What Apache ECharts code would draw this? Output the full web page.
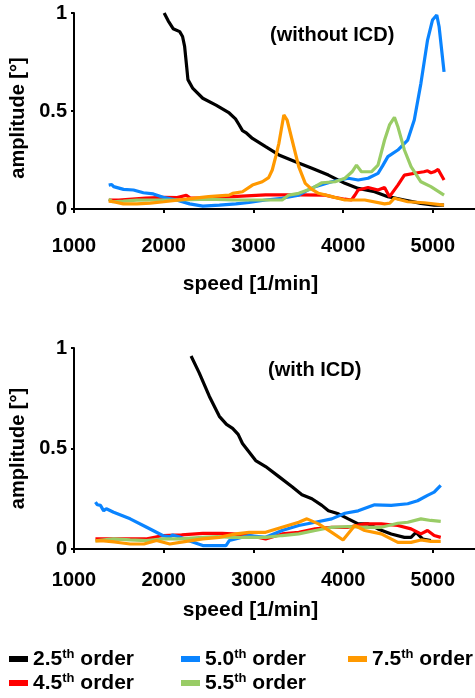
<!DOCTYPE html>
<html>
<head>
<meta charset="utf-8">
<script src="https://cdn.jsdelivr.net/npm/echarts@6/dist/echarts.min.js"></script>
<style>
html,body{margin:0;padding:0;background:#fff;}
#chart{width:475px;height:698px;}
</style>
</head>
<body>
<div id="chart"></div>
<script>
// ---------- data (speed [1/min], amplitude [°]) ----------
const seriesNames = ['2.5th order', '4.5th order', '5.0th order', '5.5th order', '7.5th order'];
const seriesColors = ['#000000', '#FF0000', '#0A84FF', '#99CC66', '#FF9900'];
const xTicks = [1000, 2000, 3000, 4000, 5000];
const yTicks = [0, 0.5, 1];
const panelLabels = ['(without ICD)', '(with ICD)'];

// top panel: without ICD
const order25Without = [[2005,1.0],[2050,0.96],[2105,0.92],[2178,0.905],[2210,0.88],[2233,0.83],[2255,0.73],[2270,0.66],[2325,0.615],[2435,0.565],[2583,0.53],[2730,0.49],[2800,0.46],[2840,0.43],[2878,0.40],[2915,0.39],[2989,0.36],[3136,0.318],[3284,0.276],[3468,0.241],[3652,0.208],[3836,0.173],[4020,0.131],[4168,0.105],[4351,0.088],[4499,0.063],[4683,0.046],[4867,0.029],[5015,0.02],[5125,0.02]];
const order45Without = [[1387,0.046],[1500,0.045],[1650,0.05],[1800,0.055],[2000,0.06],[2150,0.058],[2252,0.07],[2300,0.055],[2450,0.055],[2600,0.06],[2768,0.063],[3136,0.072],[3505,0.072],[3800,0.071],[3900,0.06],[4020,0.05],[4093,0.046],[4130,0.07],[4168,0.097],[4278,0.11],[4389,0.097],[4462,0.11],[4517,0.063],[4610,0.122],[4683,0.173],[4830,0.185],[4900,0.19],[4941,0.195],[4980,0.185],[5015,0.19],[5059,0.202],[5125,0.148]];
const order50Without = [[1387,0.122],[1420,0.125],[1442,0.114],[1552,0.10],[1663,0.097],[1773,0.083],[1884,0.077],[1994,0.06],[2141,0.046],[2289,0.026],[2436,0.015],[2621,0.02],[2804,0.026],[2950,0.033],[3136,0.046],[3320,0.055],[3505,0.071],[3600,0.095],[3689,0.114],[3873,0.139],[4057,0.157],[4168,0.148],[4278,0.157],[4389,0.182],[4440,0.22],[4499,0.267],[4610,0.301],[4720,0.352],[4793,0.454],[4867,0.641],[4941,0.862],[4996,0.964],[5044,0.99],[5070,0.93],[5125,0.70]];
const order55Without = [[1387,0.05],[1430,0.037],[1550,0.04],[1700,0.045],[1884,0.046],[2100,0.046],[2300,0.048],[2500,0.05],[2768,0.046],[3136,0.046],[3320,0.046],[3394,0.071],[3505,0.08],[3652,0.105],[3763,0.134],[3910,0.139],[4020,0.157],[4100,0.19],[4149,0.224],[4204,0.19],[4315,0.19],[4389,0.224],[4462,0.352],[4517,0.429],[4572,0.468],[4610,0.42],[4683,0.301],[4757,0.216],[4867,0.139],[4978,0.114],[5125,0.071]];
const order75Without = [[1387,0.04],[1440,0.037],[1550,0.026],[1700,0.026],[1850,0.03],[2000,0.037],[2250,0.05],[2500,0.063],[2730,0.071],[2768,0.08],[2878,0.088],[2989,0.122],[3099,0.139],[3170,0.16],[3210,0.199],[3250,0.27],[3284,0.335],[3339,0.48],[3376,0.454],[3431,0.352],[3505,0.216],[3578,0.131],[3652,0.1],[3726,0.08],[3873,0.063],[4020,0.046],[4241,0.046],[4462,0.026],[4520,0.03],[4572,0.055],[4720,0.037],[4904,0.032],[5125,0.02]];

// bottom panel: with ICD
const order25With = [[2305,0.96],[2397,0.875],[2508,0.76],[2620,0.66],[2700,0.62],[2768,0.60],[2830,0.57],[2878,0.525],[3025,0.44],[3136,0.41],[3284,0.36],[3431,0.31],[3541,0.27],[3652,0.25],[3763,0.217],[3836,0.19],[3947,0.175],[4057,0.15],[4168,0.125],[4278,0.125],[4389,0.10],[4536,0.075],[4683,0.058],[4757,0.058],[4812,0.083],[4886,0.05],[4978,0.042]];
const order45With = [[1239,0.05],[1400,0.05],[1600,0.05],[1800,0.05],[1994,0.067],[2200,0.07],[2436,0.078],[2650,0.078],[2768,0.075],[2952,0.067],[3136,0.05],[3320,0.075],[3505,0.083],[3689,0.1],[3873,0.108],[4057,0.108],[4241,0.125],[4425,0.125],[4610,0.117],[4757,0.1],[4867,0.075],[4941,0.092],[5015,0.067],[5088,0.058]];
const order50With = [[1239,0.233],[1260,0.22],[1280,0.225],[1295,0.217],[1331,0.19],[1360,0.2],[1442,0.183],[1626,0.15],[1810,0.108],[1994,0.066],[2068,0.06],[2100,0.07],[2178,0.06],[2289,0.04],[2436,0.017],[2583,0.017],[2694,0.017],[2731,0.042],[2800,0.05],[2952,0.067],[3136,0.058],[3320,0.092],[3505,0.117],[3689,0.133],[3873,0.15],[4020,0.178],[4168,0.19],[4351,0.22],[4536,0.217],[4720,0.225],[4830,0.24],[4941,0.267],[5015,0.283],[5088,0.317]];
const order55With = [[1239,0.04],[1442,0.05],[1626,0.045],[1810,0.042],[1994,0.05],[2178,0.05],[2436,0.058],[2600,0.062],[2768,0.058],[3136,0.058],[3320,0.067],[3505,0.075],[3689,0.092],[3873,0.108],[4057,0.112],[4241,0.108],[4425,0.108],[4610,0.128],[4720,0.133],[4867,0.15],[4978,0.142],[5088,0.137]];
const order75With = [[1239,0.04],[1330,0.04],[1450,0.035],[1626,0.025],[1780,0.025],[1920,0.042],[2068,0.025],[2252,0.038],[2436,0.05],[2620,0.058],[2804,0.075],[2952,0.083],[3136,0.083],[3320,0.108],[3505,0.133],[3597,0.15],[3726,0.125],[3873,0.083],[3999,0.045],[4130,0.117],[4241,0.092],[4425,0.075],[4610,0.033],[4757,0.033],[4867,0.045],[4978,0.038],[5088,0.038]];

// ---------- chart ----------
const FONT = 'Liberation Sans, Arial, sans-serif';
const chart = echarts.init(document.getElementById('chart'), null, {renderer: 'canvas'});

function xAxisFor(gridIndex, labelMargin, nameGap) {
  return {
    type: 'value', gridIndex: gridIndex, min: xTicks[0], max: 5470, interval: 1000,
    axisLine: {show: true, onZero: false, lineStyle: {color: '#000', width: 2}},
    axisTick: {show: true, inside: false, length: 4, lineStyle: {color: '#000', width: 2}},
    axisLabel: {show: true, showMaxLabel: false, margin: labelMargin, color: '#000',
      fontFamily: FONT, fontWeight: 'bold', fontSize: 20,
      formatter: function (v) { return xTicks.indexOf(v) >= 0 ? String(v) : ''; }},
    splitLine: {show: false},
    name: 'speed [1/min]', nameLocation: 'middle', nameGap: nameGap,
    nameTextStyle: {color: '#000', fontFamily: FONT, fontWeight: 'bold', fontSize: 21, padding: [0, 48, 0, 0]}
  };
}
function yAxisFor(gridIndex, shift) {
  return {
    type: 'value', gridIndex: gridIndex, min: yTicks[0], max: yTicks[2], interval: 0.5,
    axisLine: {show: true, lineStyle: {color: '#000', width: 2}},
    axisTick: {show: true, inside: false, length: 3, lineStyle: {color: '#000', width: 2}},
    axisLabel: {show: true, margin: 7, color: '#000', fontFamily: FONT, fontWeight: 'bold', fontSize: 20,
      formatter: function (v) { return String(v); }},
    splitLine: {show: false},
    name: 'amplitude [°]', nameLocation: 'middle', nameRotate: 90, nameGap: 46,
    nameTextStyle: {color: '#000', fontFamily: FONT, fontWeight: 'bold', fontSize: 20, padding: [0, shift, 0, 0]}
  };
}

const topData = [order25Without, order45Without, order50Without, order55Without, order75Without];
const botData = [order25With, order45With, order50With, order55With, order75With];

const series = [];
[topData, botData].forEach(function (panel, p) {
  panel.forEach(function (d, i) {
    series.push({
      name: seriesNames[i], type: 'line', xAxisIndex: p, yAxisIndex: p,
      data: d, showSymbol: false, symbol: 'none', smooth: false,
      lineStyle: {color: seriesColors[i], width: 3.2},
      itemStyle: {color: seriesColors[i]},
      emphasis: {disabled: true}, silent: true, animation: false, z: 2 + i
    });
  });
});

function legendFor(name, left, top) {
  return {
    data: [name], orient: 'horizontal', left: left, top: top, padding: 0,
    icon: 'rect', itemWidth: 19, itemHeight: 6, selectedMode: false,
    formatter: function (nm) {
      const m = nm.match(/^([0-9.]+)th (.*)$/);
      return '{n|' + m[1] + '}{s|th}{n| ' + m[2] + '}';
    },
    textStyle: {
      color: '#000', fontFamily: FONT, fontWeight: 'bold', fontSize: 21,
      rich: {
        n: {color: '#000', fontFamily: FONT, fontWeight: 'bold', fontSize: 21, lineHeight: 22},
        s: {color: '#000', fontFamily: FONT, fontWeight: 'bold', fontSize: 13, lineHeight: 22, verticalAlign: 'top'}
      }
    }
  };
}

const option = {
  animation: false,
  backgroundColor: '#fff',
  grid: [
    {left: 70, top: 13, right: 0, height: 196, containLabel: false},
    {left: 70, top: 348, right: 0, height: 201, containLabel: false}
  ],
  xAxis: [xAxisFor(0, 27, 65), xAxisFor(1, 21, 51)],
  yAxis: [yAxisFor(0, 14), yAxisFor(1, 0)],
  legend: [
    legendFor(seriesNames[0], 9, 648),
    legendFor(seriesNames[1], 9, 672),
    legendFor(seriesNames[2], 181, 648),
    legendFor(seriesNames[3], 181, 672),
    legendFor(seriesNames[4], 348, 648)
  ],
  graphic: [
    {type: 'text', left: 270, top: 25, silent: true,
      style: {text: panelLabels[0], fill: '#000', font: 'bold 20px ' + FONT}},
    {type: 'text', left: 268, top: 360, silent: true,
      style: {text: panelLabels[1], fill: '#000', font: 'bold 20px ' + FONT}}
  ],
  series: series
};
chart.setOption(option);
</script>
</body>
</html>
